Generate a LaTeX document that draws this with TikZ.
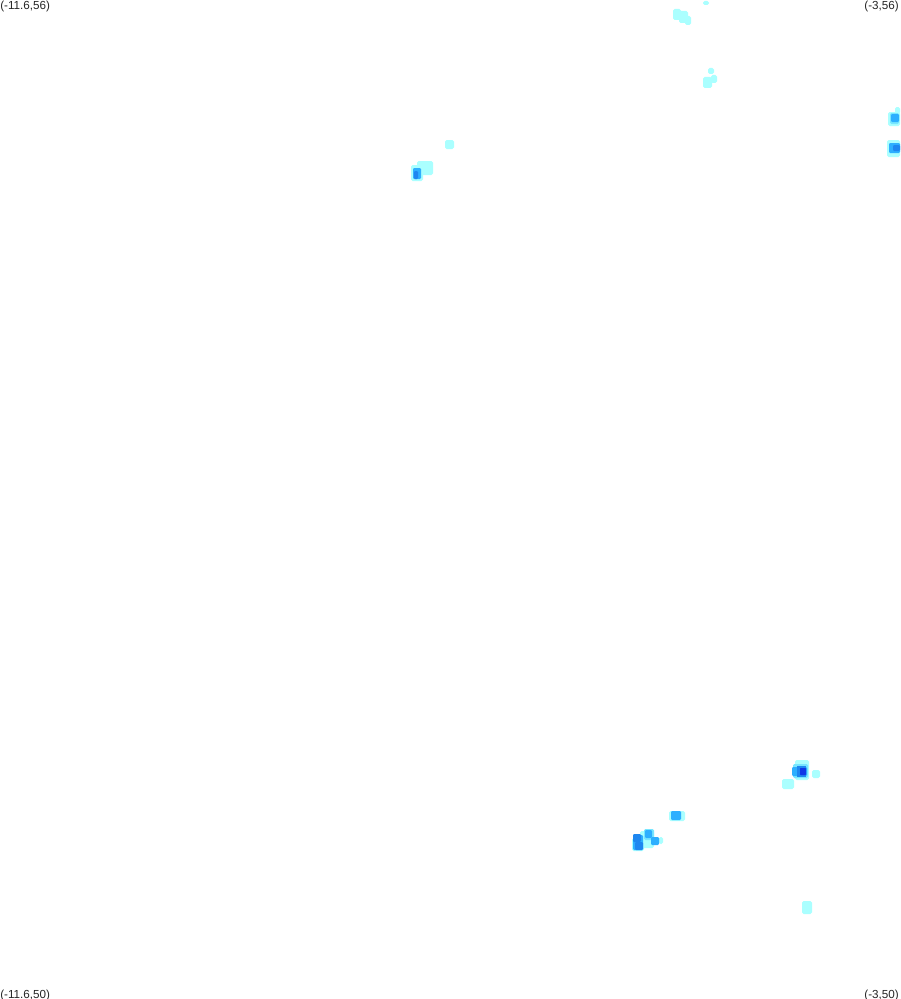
\documentclass[tikz,border=0pt]{standalone}
\usepackage{fontspec}
\setmainfont{Liberation Sans}
\definecolor{lightc}{RGB}{170,255,255}
\definecolor{paleC}{RGB}{120,230,255}
\definecolor{midc}{RGB}{45,175,255}
\definecolor{darkc}{RGB}{30,135,240}
\definecolor{deepc}{RGB}{15,55,230}
\tikzset{
  corner label/.style={inner sep=0pt,font=\fontsize{8.75pt}{10pt}\selectfont,text=black!85},
  lt/.style={fill=lightc,rounded corners=1.2pt},
  pl/.style={fill=paleC,rounded corners=1pt},
  md/.style={fill=midc,rounded corners=0.8pt},
  dk/.style={fill=darkc,rounded corners=0.8pt},
  dp/.style={fill=deepc,rounded corners=0.5pt}
}
\begin{document}
\begin{tikzpicture}[x=0.75pt,y=-0.75pt]
\useasboundingbox (0,0) rectangle (900,999);
\fill[white] (0,0) rectangle (900,999);
% top cluster
\path[lt] (673,9) rectangle (681,20);
\path[lt] (679,11) rectangle (688,23);
\path[lt] (685,16) rectangle (691,25);
\path[lt] (703,1) rectangle (709,5);
\path[lt] (708,68) rectangle (714,74);
\path[lt] (711,75) rectangle (717,83);
\path[lt] (703,77) rectangle (712,88);
% left cluster
\path[lt] (445,140) rectangle (454,149);
\path[lt] (417,161) rectangle (433,175);
\path[lt] (411,165) rectangle (423,181);
\path[md] (413,168) rectangle (421,179);
\path[dk] (414,171) rectangle (418,179);
% right edge
\path[lt] (888,112) rectangle (900,126);
\path[lt] (895,107) rectangle (900,114);
\path[pl] (890,113) rectangle (899,124);
\path[md] (891,114) rectangle (899,122);
\path[lt] (887,140) rectangle (900,157);
\path[md] (889,143) rectangle (900,153);
\path[dk] (893,145) rectangle (900,151);
% lower right cluster
\path[lt] (795,760) rectangle (809,780);
\path[pl] (793,764) rectangle (808,778);
\path[md] (792,767) rectangle (807,776);
\path[darkc,fill=darkc] (797,766) rectangle (806,777);
\path[dp] (800,768) rectangle (806,775);
\path[lt] (812,770) rectangle (820,778);
\path[lt] (782,779) rectangle (794,789);
% centre bottom cluster
\path[lt] (669,811) rectangle (685,821);
\path[md] (671,811) rectangle (681,820);
\path[lt] (640,831) rectangle (654,848);
\path[lt] (632,838) rectangle (644,851);
\path[lt] (659,837) rectangle (663,844);
\path[pl] (644,829) rectangle (654,840);
\path[md] (645,830) rectangle (652,838);
\path[md] (651,837) rectangle (659,845);
\path[md] (633,835) rectangle (643,850);
\path[dk] (633,834) rectangle (641,842);
\path[dk] (635,842) rectangle (643,850);
% bottom single
\path[lt] (802,901) rectangle (812,914);
% corner labels
\node[corner label,anchor=west] (tl) at (0,6.5) {(-11.6,56)};
\node[corner label,anchor=east] (tr) at (899,6.5) {(-3,56)};
\node[corner label,anchor=west] (bl) at (0,995.5) {(-11.6,50)};
\node[corner label,anchor=east] (br) at (899,995.5) {(-3,50)};
\end{tikzpicture}
\end{document}
